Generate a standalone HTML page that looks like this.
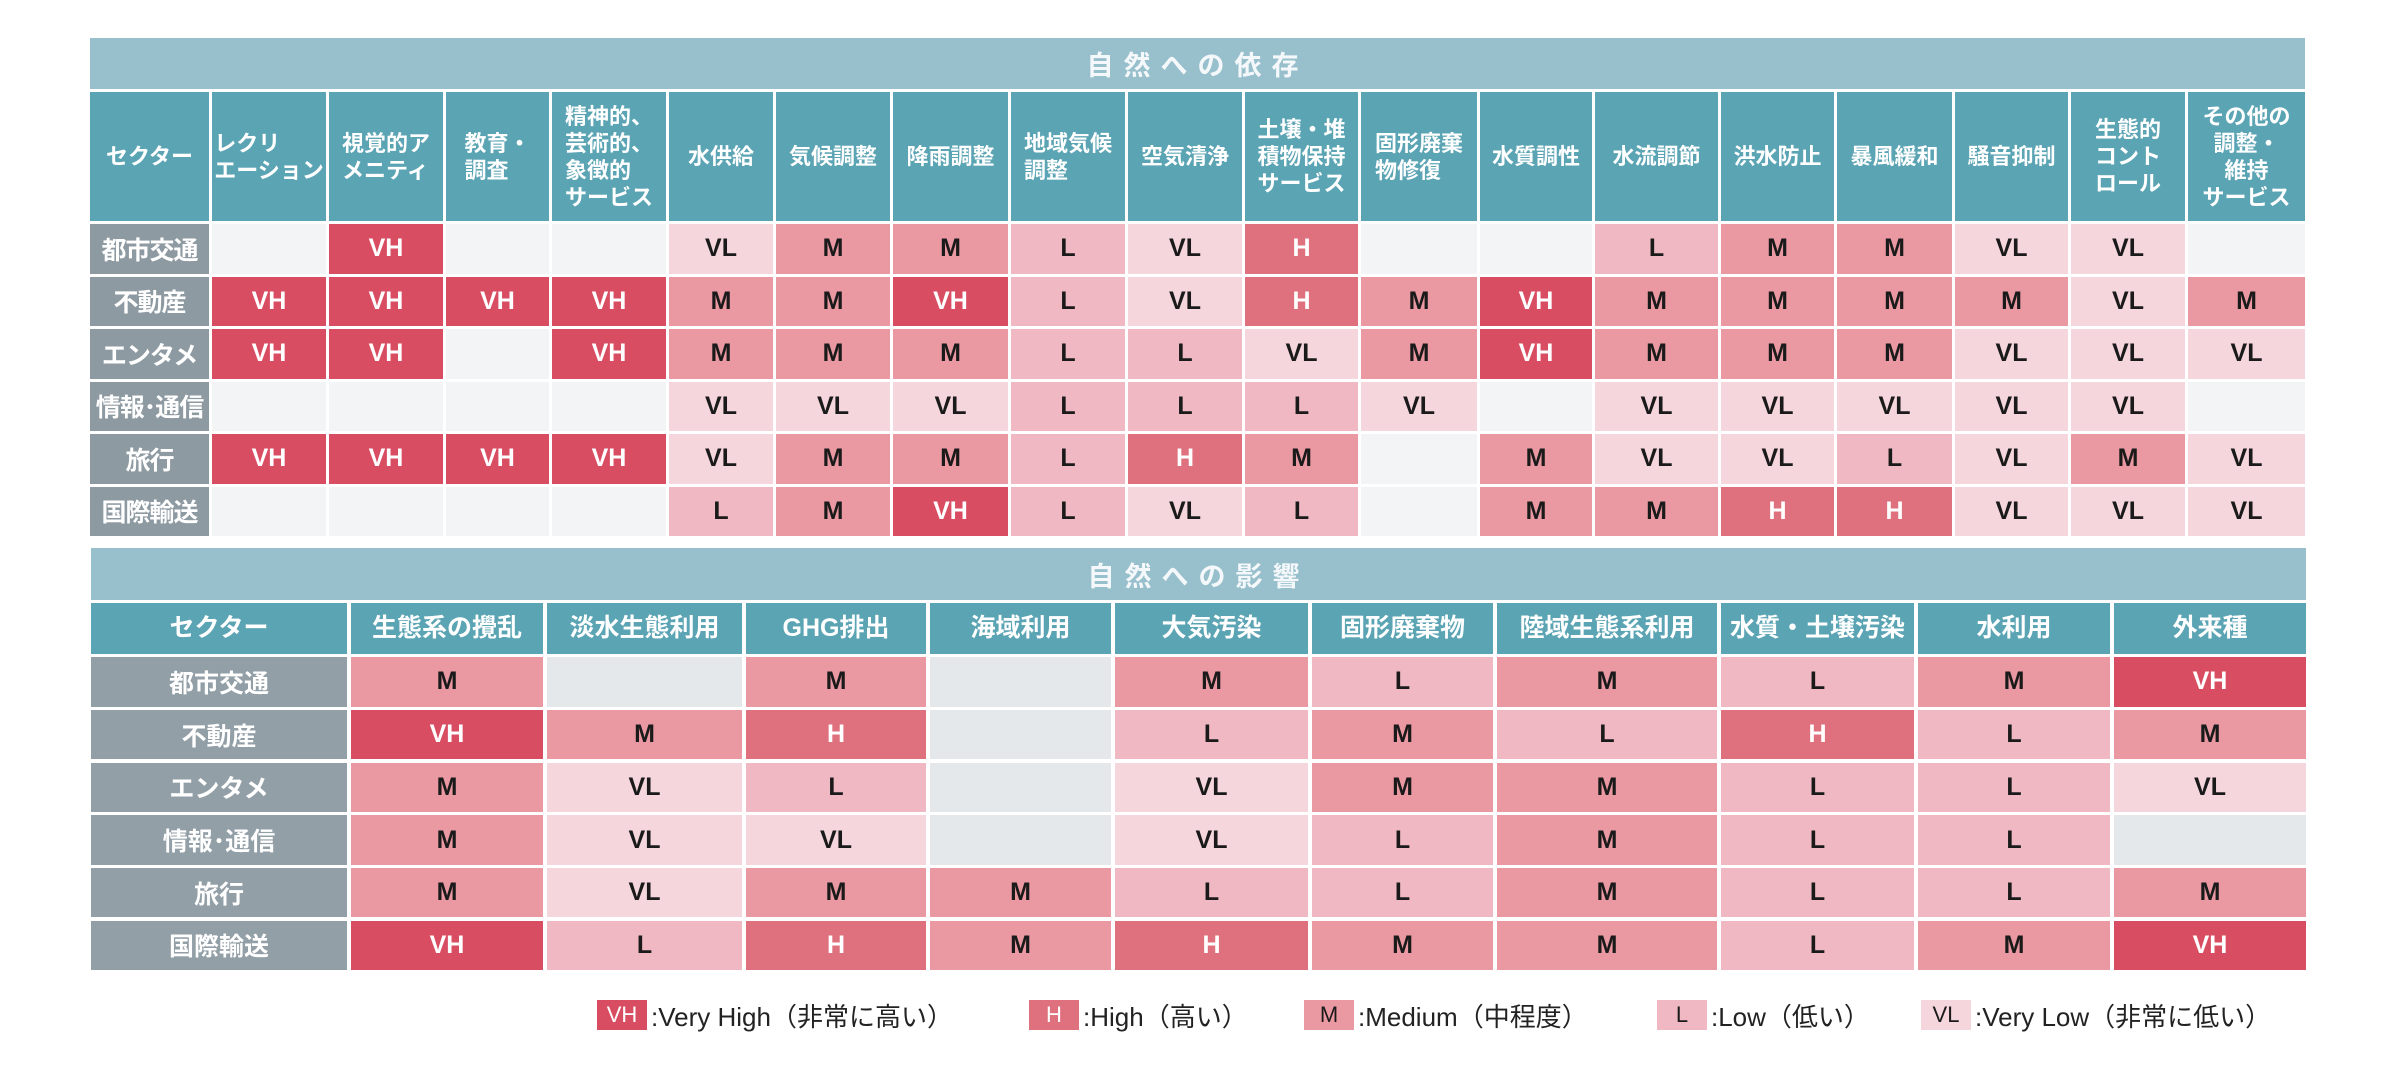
<!DOCTYPE html>
<html><head><meta charset="utf-8"><style>
*{margin:0;padding:0;box-sizing:border-box}
body{width:2400px;height:1086px;background:#fff;position:relative;overflow:hidden;font-family:"Liberation Sans","Noto Sans CJK JP",sans-serif}
.band{position:absolute;background:#97bfcc;color:#f4f8fa;font-size:27px;font-weight:bold;letter-spacing:10px;display:flex;align-items:center;justify-content:center}
.g{position:absolute;display:grid}
.g>div{display:flex;align-items:center;justify-content:center;font-weight:bold}
.t{left:90px;top:92px;grid-template-columns:119px 114px 114px 103px 114px 104px 114px 115px 114px 114px 113px 116px 112px 123px 113px 115px 113px 114px 117px;grid-template-rows:129px repeat(6,49.5px);column-gap:3px;row-gap:3px}
.b{left:91px;top:603px;grid-template-columns:256px 192px 195px 180px 181px 193px 181px 220px 193px 192px 192px;grid-template-rows:51px repeat(6,49.5px);column-gap:4px;row-gap:3.2px}
.h{background:#5ba4b4;color:#fff;font-size:22px;line-height:27px;text-align:left}
.b .h{font-size:25px}
.s{background:#8e9aa2;color:#fff;font-size:25px;white-space:nowrap;letter-spacing:-1px}
.b .s{background:#939fa7;letter-spacing:0}
.e{background:#f3f4f6}
.b .e{background:#e5e8eb}
.VH{background:#d94d63;color:#fff;font-size:25px}
.H{background:#de717d;color:#fff;font-size:25px}
.M{background:#ea98a1;color:#1a1a1a;font-size:25px}
.L{background:#efb8c2;color:#1a1a1a;font-size:25px}
.VL{background:#f5d6dd;color:#1a1a1a;font-size:25px}
.leg{position:absolute;top:998px;height:34px;display:flex;align-items:center;font-size:26px;color:#222;white-space:nowrap}
.leg span{display:inline-flex;align-items:center;justify-content:center;width:50px;height:30px;font-size:22px;margin-right:4px;font-weight:normal}
</style></head><body>
<div class="band" style="left:90px;top:38px;width:2215px;height:51px">自然への依存</div>
<div class="g t">
<div class="h">セクター</div><div class="h">レクリ<br>エーション</div><div class="h">視覚的ア<br>メニティ</div><div class="h">教育・<br>調査</div><div class="h">精神的、<br>芸術的、<br>象徴的<br>サービス</div><div class="h">水供給</div><div class="h">気候調整</div><div class="h">降雨調整</div><div class="h">地域気候<br>調整</div><div class="h">空気清浄</div><div class="h">土壌・堆<br>積物保持<br>サービス</div><div class="h">固形廃棄<br>物修復</div><div class="h">水質調性</div><div class="h">水流調節</div><div class="h">洪水防止</div><div class="h">暴風緩和</div><div class="h">騒音抑制</div><div class="h" style="text-align:center">生態的<br>コント<br>ロール</div><div class="h" style="text-align:center">その他の<br>調整・<br>維持<br>サービス</div>
<div class="s">都市交通</div><div class="e"></div><div class="VH">VH</div><div class="e"></div><div class="e"></div><div class="VL">VL</div><div class="M">M</div><div class="M">M</div><div class="L">L</div><div class="VL">VL</div><div class="H">H</div><div class="e"></div><div class="e"></div><div class="L">L</div><div class="M">M</div><div class="M">M</div><div class="VL">VL</div><div class="VL">VL</div><div class="e"></div>
<div class="s">不動産</div><div class="VH">VH</div><div class="VH">VH</div><div class="VH">VH</div><div class="VH">VH</div><div class="M">M</div><div class="M">M</div><div class="VH">VH</div><div class="L">L</div><div class="VL">VL</div><div class="H">H</div><div class="M">M</div><div class="VH">VH</div><div class="M">M</div><div class="M">M</div><div class="M">M</div><div class="M">M</div><div class="VL">VL</div><div class="M">M</div>
<div class="s">エンタメ</div><div class="VH">VH</div><div class="VH">VH</div><div class="e"></div><div class="VH">VH</div><div class="M">M</div><div class="M">M</div><div class="M">M</div><div class="L">L</div><div class="L">L</div><div class="VL">VL</div><div class="M">M</div><div class="VH">VH</div><div class="M">M</div><div class="M">M</div><div class="M">M</div><div class="VL">VL</div><div class="VL">VL</div><div class="VL">VL</div>
<div class="s">情報･通信</div><div class="e"></div><div class="e"></div><div class="e"></div><div class="e"></div><div class="VL">VL</div><div class="VL">VL</div><div class="VL">VL</div><div class="L">L</div><div class="L">L</div><div class="L">L</div><div class="VL">VL</div><div class="e"></div><div class="VL">VL</div><div class="VL">VL</div><div class="VL">VL</div><div class="VL">VL</div><div class="VL">VL</div><div class="e"></div>
<div class="s">旅行</div><div class="VH">VH</div><div class="VH">VH</div><div class="VH">VH</div><div class="VH">VH</div><div class="VL">VL</div><div class="M">M</div><div class="M">M</div><div class="L">L</div><div class="H">H</div><div class="M">M</div><div class="e"></div><div class="M">M</div><div class="VL">VL</div><div class="VL">VL</div><div class="L">L</div><div class="VL">VL</div><div class="M">M</div><div class="VL">VL</div>
<div class="s">国際輸送</div><div class="e"></div><div class="e"></div><div class="e"></div><div class="e"></div><div class="L">L</div><div class="M">M</div><div class="VH">VH</div><div class="L">L</div><div class="VL">VL</div><div class="L">L</div><div class="e"></div><div class="M">M</div><div class="M">M</div><div class="H">H</div><div class="H">H</div><div class="VL">VL</div><div class="VL">VL</div><div class="VL">VL</div>
</div>
<div class="band" style="left:91px;top:548px;width:2215px;height:52px">自然への影響</div>
<div class="g b">
<div class="h">セクター</div><div class="h">生態系の攪乱</div><div class="h">淡水生態利用</div><div class="h">GHG排出</div><div class="h">海域利用</div><div class="h">大気汚染</div><div class="h">固形廃棄物</div><div class="h">陸域生態系利用</div><div class="h">水質・土壌汚染</div><div class="h">水利用</div><div class="h">外来種</div>
<div class="s">都市交通</div><div class="M">M</div><div class="e"></div><div class="M">M</div><div class="e"></div><div class="M">M</div><div class="L">L</div><div class="M">M</div><div class="L">L</div><div class="M">M</div><div class="VH">VH</div>
<div class="s">不動産</div><div class="VH">VH</div><div class="M">M</div><div class="H">H</div><div class="e"></div><div class="L">L</div><div class="M">M</div><div class="L">L</div><div class="H">H</div><div class="L">L</div><div class="M">M</div>
<div class="s">エンタメ</div><div class="M">M</div><div class="VL">VL</div><div class="L">L</div><div class="e"></div><div class="VL">VL</div><div class="M">M</div><div class="M">M</div><div class="L">L</div><div class="L">L</div><div class="VL">VL</div>
<div class="s">情報･通信</div><div class="M">M</div><div class="VL">VL</div><div class="VL">VL</div><div class="e"></div><div class="VL">VL</div><div class="L">L</div><div class="M">M</div><div class="L">L</div><div class="L">L</div><div class="e"></div>
<div class="s">旅行</div><div class="M">M</div><div class="VL">VL</div><div class="M">M</div><div class="M">M</div><div class="L">L</div><div class="L">L</div><div class="M">M</div><div class="L">L</div><div class="L">L</div><div class="M">M</div>
<div class="s">国際輸送</div><div class="VH">VH</div><div class="L">L</div><div class="H">H</div><div class="M">M</div><div class="H">H</div><div class="M">M</div><div class="M">M</div><div class="L">L</div><div class="M">M</div><div class="VH">VH</div>
</div>
<div class="leg" style="left:597px"><span class="VH">VH</span>:Very High（非常に高い）</div>
<div class="leg" style="left:1029px"><span class="H">H</span>:High（高い）</div>
<div class="leg" style="left:1304px"><span class="M">M</span>:Medium（中程度）</div>
<div class="leg" style="left:1657px"><span class="L">L</span>:Low（低い）</div>
<div class="leg" style="left:1921px"><span class="VL">VL</span>:Very Low（非常に低い）</div>
</body></html>
